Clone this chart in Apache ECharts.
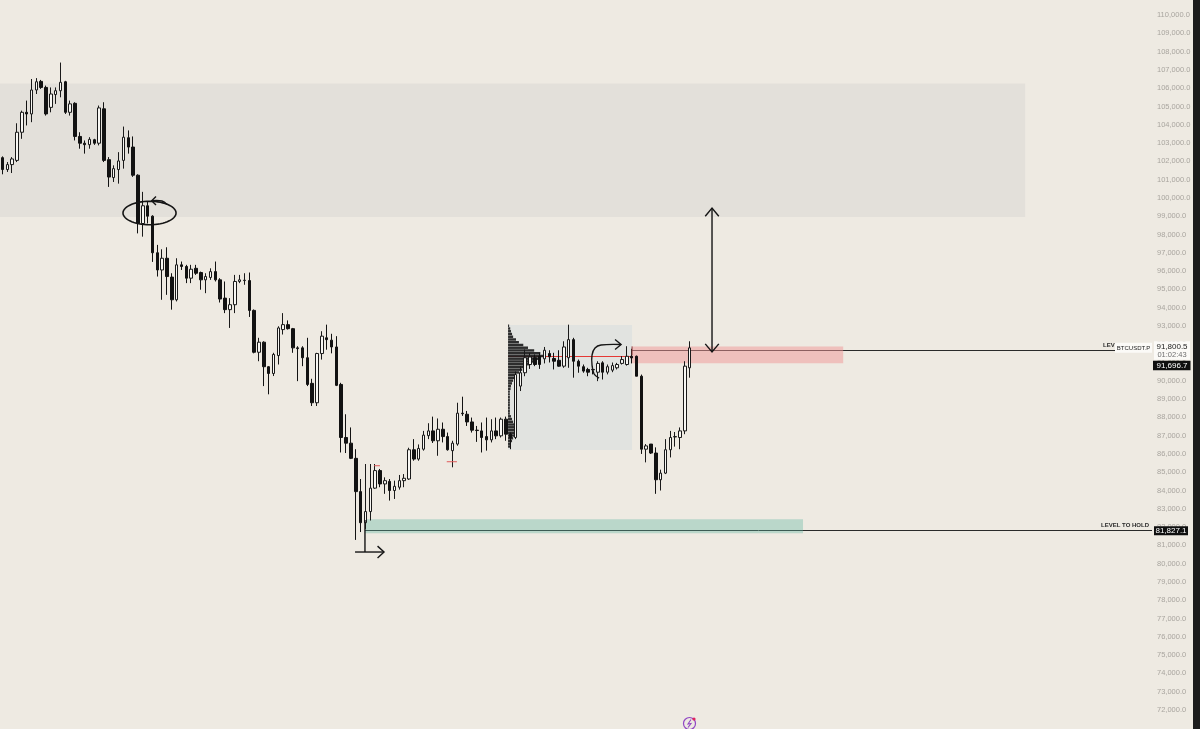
<!DOCTYPE html>
<html>
<head>
<meta charset="utf-8">
<script src="https://cdn.jsdelivr.net/npm/echarts@6/dist/echarts.min.js"></script>
<style>
html,body{margin:0;padding:0;background:#EEEAE2;}
#chart{width:1200px;height:729px;}
</style>
</head>
<body>
<div id="chart"></div>
<script>
// ---- DATA ----
// candles: [open, close, low, high]
const candles = [
[102200,101550,101290,102270],[101550,101820,101420,101960],[101820,102130,101360,102230],[102050,103590,101960,104080],
[103590,104680,103230,104770],[104680,104590,103960,105320],[104590,105900,104140,106500],[105900,106350,105680,106550],
[106370,106040,105960,106450],[106040,104590,104500,106140],[104950,105680,104680,106040],[105650,105860,105140,106040],
[105860,106320,105500,107400],[106350,104680,104590,106400],[104680,105140,104500,105320],[105170,103360,103140,105230],
[103360,102990,102690,103590],[102990,102910,102420,103140],[102910,103200,102690,103320],[103180,102990,102900,103230],
[102990,104920,102870,105050],[104870,102050,101960,105230],[102090,101140,100600,102230],[101110,101600,100870,101780],
[101550,102020,100780,102500],[102050,103320,101600,103900],[103290,102780,102420,103690],[102780,101240,101150,103360],
[101240,98600,98060,101290],[98600,99570,97880,100330],[99570,99000,98600,99780],[99000,97000,96500,99050],
[97000,96060,95700,97430],[96060,96700,94430,97190],[96700,95700,94700,97300],[95670,94430,93890,95880],
[94430,96340,94340,96700],[96340,96250,96060,96520],[96250,95610,95340,96340],[95610,96100,95340,96340],
[96150,95880,95790,96340],[95920,95520,94980,95970],[95520,95700,94790,95880],[95650,95970,95520,96150],
[95970,95520,95430,96520],[95520,94470,94280,95610],[94520,93890,93700,95430],[93890,94160,92890,94520],
[94160,95430,93700,95790],[95430,95520,95340,95790],[95480,95500,95250,95880],[95480,93850,93490,95920],
[93850,91560,91500,93900],[91560,92110,91070,92350],[92110,90770,89710,92160],[90770,90400,89260,90800],
[90400,91440,90260,91530],[91380,92890,90890,92980],[92800,93070,92530,93700],[93070,92850,92800,93300],
[92850,91800,91530,92890],[91800,91760,89980,91890],[91800,91260,90800,91890],[91260,89800,89710,92350],
[89860,88800,88620,90110],[88800,91490,88620,91530],[91490,92440,91160,92710],[92350,92250,91700,93070],
[92220,91850,91500,92570],[91850,89750,89710,92440],[89800,86900,86080,89890],[86900,86590,86050,88170],
[86590,85760,85720,87450],[85760,83940,81300,86260],[83940,82240,81730,84630],[82240,82850,81900,85450],
[82850,84130,82360,85450],[84130,85090,84090,85450],[85090,84360,84180,85180],[84360,84540,83820,84720],
[84500,84000,83450,84630],[84000,84230,83540,84540],[84180,84540,84050,84850],[84540,84670,84180,84900],
[84630,86230,84580,86340],[86230,85720,85630,86810],[85720,86300,85630,86520],[86260,87030,86180,87260],
[87000,87260,86810,87680],[87260,86720,86600,88040],[86720,87350,85900,87940],[87350,86950,86630,87720],
[86950,86230,86180,87170],[86180,86590,85270,86720],[86540,88230,86450,88800],[88230,88200,88080,89130],
[88170,87750,87530,88350],[87750,87300,87170,87990],[87300,87280,86660,87530],[87260,86900,86080,87720],
[86950,86770,86180,87990],[86770,87260,86630,87900],[87260,86990,86810,87990],[86990,87900,86900,87990],
[87900,87080,86720,88040],[87080,86900,86260,87170],[86900,90340,86810,90510],[89710,90440,89440,90800],
[90440,91260,90250,91710],[90890,91300,90650,91530],[91260,90890,90800,91440],[91340,90890,90650,91530],
[91200,91670,90950,91850],[91490,91310,91000,91670],[91220,91070,90620,91530],[91120,90800,90770,91670],
[90800,91850,90710,92160],[91260,92250,90710,93070],[92250,91070,90170,92350],[91070,90800,90440,91160],
[90770,90530,90440,90890],[90620,90470,90250,90710],[90620,90600,90350,90800],[90470,90950,89980,91070],
[90980,90470,90070,91070],[90470,90770,90350,90890],[90580,90830,90470,91000],[90710,90890,90620,90980],
[90950,91160,90890,91350],[90890,91340,90830,91890],[91340,91250,90950,91750],[91340,90250,90250,91380],
[90250,86260,86000,90340],[86260,86440,85540,86540],[86540,86050,86000,86540],[86050,84590,83820,86360],
[84590,84950,84000,85140],[84950,86230,84900,86810],[86230,86900,85810,87260],[86930,86950,86400,87200],
[86900,87260,86260,87450],[87260,90800,87080,91070],[90710,91800,90170,92160]
];
const profilePrices = [93000,92850,92700,92550,92400,92250,92100,91950,91800,91650,91500,91350,91200,91050,90900,
  90750,90600,90450,90300,90150,90000,89850,89700,89550,89400,89250,89100,88950,88800,88650,88500,88350,88200,
  88050,87900,87750,87600,87450,87300,87150,87000,86850,86700,86550,86400];
const profileVolumes = [3,6,8,11,14,22,30,42,55,72,89,100,86,72,61,47,39,31,22,17,14,11,8,7,5,5,5,5,5,5,5,5,5,
  8,11,14,17,19,22,19,17,14,11,8,6];
const supplyZone = [106250, 98950];
const valueAreaBox = [93050, 86220];
const gainZone = [91870, 90960];
const holdZone = [82430, 81670];
const pocPrice = 91370;
const lastPrice = 91800.5;
const countdown = '01:02:43';
const symbolName = 'BTCUSDT.P';
const gainLevel = 91696.7;
const holdLevel = 81827.1;
const levelLabels = ['LEVEL TO GAIN', 'LEVEL TO HOLD'];
const redTickPrices = [85356, 85574];
const yMin = 72000, yMax = 110000, yStep = 1000;

// ---- LAYOUT ----
const slotCount = 238;
const slots = Array.from({length: slotCount}, (_, i) => String(i));
const xMax = slotCount - 0.5;
const FONT = 'Liberation Sans, Arial, sans-serif';
const fmt = v => v.toLocaleString('en-US', {minimumFractionDigits: 1, maximumFractionDigits: 1});

const opaqueZones = [
  [-0.5, 211.3, supplyZone[0], supplyZone[1], '#E3E0DA'],
  [104.46, 130.08, valueAreaBox[0], valueAreaBox[1], '#E1E3E0']
];
const glassZones = [
  [130.08, 173.7, gainZone[0], gainZone[1], 'rgba(239,150,150,0.5)'],
  [74.9, 165.4, holdZone[0], holdZone[1], 'rgba(95,183,160,0.36)']
];
const levelLines = [
  [130.08, xMax, gainLevel, '#2a2a2a'],
  [74.9, xMax, holdLevel, '#2a2a2a'],
  [104.46, 130.08, pocPrice, '#e53935']
];

function zoneItem(colors) {
  return function (params, api) {
    const p0 = api.coord([api.value(0), api.value(2)]);
    const p1 = api.coord([api.value(1), api.value(3)]);
    return {type: 'rect', silent: true,
      shape: {x: p0[0], y: p0[1], width: p1[0] - p0[0], height: p1[1] - p0[1]},
      style: {fill: colors[params.dataIndex]}};
  };
}
function lineItem(params, api) {
  const p0 = api.coord([api.value(0), api.value(2)]);
  const p1 = api.coord([api.value(1), api.value(2)]);
  return {type: 'line', silent: true,
    shape: {x1: p0[0], y1: Math.round(p0[1]) + 0.5, x2: p1[0], y2: Math.round(p1[1]) + 0.5},
    style: {stroke: levelLines[params.dataIndex][3], lineWidth: 1}};
}
const profileStart = 104.46, profileMaxSlots = 7.5, profileBin = 150;
function profileItem(params, api) {
  const price = api.value(1), vol = api.value(2);
  const top = api.coord([profileStart, price + profileBin / 2]);
  const bot = api.coord([profileStart, price - profileBin / 2]);
  const w = vol / 100 * api.size([profileMaxSlots, 0])[0];
  return {type: 'rect', silent: true,
    shape: {x: top[0], y: top[1], width: w, height: Math.max(0.6, bot[1] - top[1] - 0.3)},
    style: {fill: '#1d1d1d', opacity: 0.92}};
}

function annoItem(params, api) {
  const P = (i, p) => api.coord([i, p]);
  const st = {stroke: '#151515', lineWidth: 1.4, fill: null};
  const pl = (pts, smooth) => ({type: 'polyline', silent: true,
    shape: {points: pts.map(q => P(q[0], q[1])), smooth: smooth || 0}, style: st});
  const ch = [];
  // ellipse
  const c = P(30.39, 99173);
  const rx = api.size([5.48, 0])[0], ry = api.size([0, 640])[1];
  const pts = [];
  for (let k = 0; k < 60; k++) {
    const t = k / 60 * Math.PI * 2;
    pts.push([c[0] + rx * Math.cos(t), c[1] + ry * Math.sin(t)]);
  }
  ch.push({type: 'polygon', silent: true, shape: {points: pts}, style: {stroke: '#151515', lineWidth: 1.6, fill: null}});
  ch.push(pl([[34.0, 99638], [32.97, 99830], [30.84, 99846]], 0.4));
  ch.push(pl([[31.73, 100076], [30.84, 99846], [31.73, 99611]]));
  // vertical double arrow
  ch.push(pl([[146.6, 99447], [146.6, 91573]]));
  ch.push(pl([[145.2, 99000], [146.6, 99447], [148.0, 99000]]));
  ch.push(pl([[145.2, 92020], [146.6, 91573], [148.0, 92020]]));
  // bottom-left arrow
  ch.push(pl([[74.9, 82387], [74.9, 80638]]));
  ch.push(pl([[72.85, 80638], [78.84, 80638]]));
  ch.push(pl([[77.5, 80960], [78.84, 80638], [77.5, 80316]]));
  // curved arrow
  ch.push(pl([[123.26, 90151], [122.23, 90370], [121.81, 90862], [121.81, 91409], [122.43, 91792], [123.67, 91956], [127.81, 91983]], 0.35));
  ch.push(pl([[126.57, 92256], [127.81, 91983], [126.57, 91709]]));
  // ray start tick
  ch.push({type: 'line', silent: true, shape: (function () {
    const a = P(130.08, 91880), b = P(130.08, 91400);
    return {x1: a[0], y1: a[1], x2: b[0], y2: b[1]};
  })(), style: {stroke: '#8a3a3a', lineWidth: 1}});
  // small red marks
  [[76.8, 78.0, redTickPrices[0]], [91.8, 93.9, redTickPrices[1]]].forEach(r => {
    const a = P(r[0], r[2]), b = P(r[1], r[2]);
    ch.push({type: 'line', silent: true, shape: {x1: a[0], y1: a[1], x2: b[0], y2: b[1]},
      style: {stroke: '#e05a5a', lineWidth: 1}});
  });
  return {type: 'group', children: ch};
}

function labelItem(params, api) {
  const axisX = api.coord([xMax, lastPrice])[0];
  const yLast = api.coord([xMax, lastPrice])[1];
  const yGain = api.coord([xMax, gainLevel])[1];
  const yHold = api.coord([xMax, holdLevel])[1];
  const t = (x, y, text, size, fill, align, weight, vAlign) => ({type: 'text', silent: true,
    style: {x: x, y: y, text: text, fontSize: size, fill: fill, align: align || 'center',
      verticalAlign: vAlign || 'middle', fontFamily: FONT, fontWeight: weight || 'normal'}});
  return {type: 'group', children: [
    t(axisX - 3, yGain - 1.5, levelLabels[0], 6, '#2a2a2a', 'right', 'bold', 'bottom'),
    t(axisX - 3, yHold - 1.5, levelLabels[1], 6, '#2a2a2a', 'right', 'bold', 'bottom'),
    {type: 'rect', silent: true, shape: {x: axisX - 37, y: yLast - 5, width: 37, height: 10}, style: {fill: '#fbfaf7'}},
    t(axisX - 18.5, yLast, symbolName, 6, '#222'),
    {type: 'rect', silent: true, shape: {x: axisX + 2, y: yLast - 6.5, width: 36, height: 18.5}, style: {fill: '#fbfaf7'}},
    t(axisX + 20, yLast - 1, fmt(lastPrice), 8, '#1a1a1a'),
    t(axisX + 20, yLast + 7.5, countdown, 7.5, '#6f6f6f'),
    {type: 'rect', silent: true, shape: {x: axisX + 1, y: yGain + 11, width: 37.5, height: 9.5}, style: {fill: '#0f0f0f'}},
    t(axisX + 20, yGain + 15.8, fmt(gainLevel), 8, '#ffffff'),
    {type: 'rect', silent: true, shape: {x: axisX + 2, y: yHold - 4, width: 34, height: 9}, style: {fill: '#0f0f0f'}},
    t(axisX + 19, yHold + 0.5, fmt(holdLevel), 8, '#ffffff')
  ]};
}

const chart = echarts.init(document.getElementById('chart'), null, {renderer: 'canvas'});
chart.setOption({
  backgroundColor: '#EEEAE2',
  animation: false,
  grid: {left: 0, right: 48, top: 15, bottom: 19, outerBoundsMode: 'none'},
  xAxis: [
    {type: 'category', data: slots, boundaryGap: true, show: false},
    {type: 'value', min: -0.5, max: xMax, show: false}
  ],
  yAxis: [{
    type: 'value', position: 'right', min: yMin, max: yMax, interval: yStep,
    splitLine: {show: false}, axisLine: {show: false}, axisTick: {show: false},
    axisLabel: {color: '#a9a59f', fontSize: 7.5, margin: 5, fontFamily: FONT, formatter: v => fmt(v)}
  }],
  series: [
    {type: 'custom', name: 'zones', xAxisIndex: 1, z: 1, renderItem: zoneItem(opaqueZones.map(z => z[4])),
      encode: {x: [0, 1], y: [2, 3]}, data: opaqueZones.map(z => z.slice(0, 4))},
    {type: 'custom', name: 'levels', xAxisIndex: 1, z: 2, renderItem: lineItem,
      encode: {x: [0, 1], y: [2]}, data: levelLines.map(l => l.slice(0, 3))},
    {type: 'custom', name: 'glass', xAxisIndex: 1, z: 3, renderItem: zoneItem(glassZones.map(z => z[4])),
      encode: {x: [0, 1], y: [2, 3]}, data: glassZones.map(z => z.slice(0, 4))},
    {type: 'custom', name: 'profile', xAxisIndex: 1, z: 4, renderItem: profileItem,
      encode: {x: 0, y: 1}, data: profilePrices.map((p, i) => [profileStart, p, profileVolumes[i]])},
    {type: 'candlestick', name: 'BTCUSDT.P', xAxisIndex: 0, z: 5, barWidth: 3,
      itemStyle: {color: '#f8f7f3', color0: '#121212', borderColor: '#1a1a1a', borderColor0: '#121212', borderWidth: 1},
      data: candles},
    {type: 'custom', name: 'drawings', xAxisIndex: 1, z: 6, renderItem: annoItem,
      encode: {x: 0, y: 1}, data: [[0, 90000]]},
    {type: 'custom', name: 'labels', xAxisIndex: 1, z: 7, renderItem: labelItem,
      encode: {x: 0, y: 1}, data: [[xMax, lastPrice]]}
  ],
  graphic: [
    {type: 'rect', right: 0, top: 0, shape: {width: 7, height: 729}, style: {fill: '#1c1c1c'}, silent: true},
    {type: 'group', left: 681, top: 715, silent: true, children: [
      {type: 'circle', shape: {cx: 7, cy: 7, r: 6}, style: {stroke: '#9146c4', lineWidth: 1.2, fill: null}},
      {type: 'polyline', shape: {points: [[8.5, 3], [5.5, 7.5], [8.5, 7], [5.5, 11]]}, style: {stroke: '#9146c4', lineWidth: 1.1, fill: null}},
      {type: 'circle', shape: {cx: 11.5, cy: 2.5, r: 1.6}, style: {fill: '#e0245e'}}
    ]}
  ]
});
</script>
</body>
</html>
